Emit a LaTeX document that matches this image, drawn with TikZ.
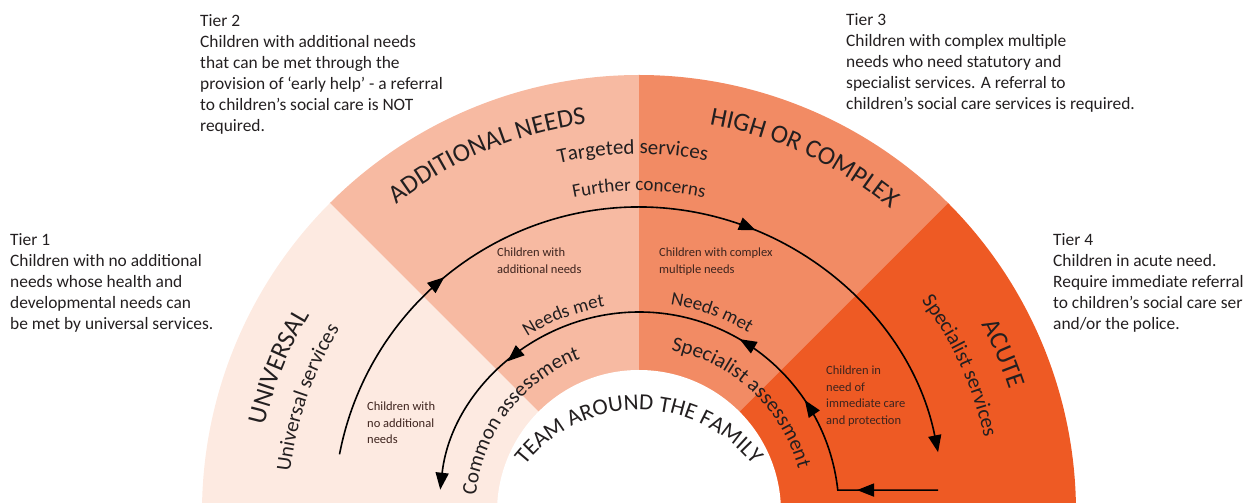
\documentclass[tikz,border=0pt]{standalone}
\usepackage{fontspec}
\setmainfont{Carlito}
\usetikzlibrary{calc,arrows.meta,decorations.markings,decorations.text}

\definecolor{universalfill}{RGB}{253,234,225}
\definecolor{additionalfill}{RGB}{247,186,162}
\definecolor{complexfill}{RGB}{242,139,100}
\definecolor{acutefill}{RGB}{238,90,36}
\definecolor{inkdark}{RGB}{35,31,32}
\definecolor{inkbrown}{RGB}{62,36,30}

\newcommand\tierfont{\fontsize{17.4pt}{21pt}\selectfont}
\newcommand\notefont{\fontsize{12.5pt}{16.5pt}\selectfont}
\newcommand\sectorfont{\fontsize{26pt}{26pt}\selectfont}
\newcommand\servicefont{\fontsize{21pt}{21pt}\selectfont}
\newcommand\flowfont{\fontsize{19pt}{19pt}\selectfont}
\newcommand\teamfont{\fontsize{23pt}{23pt}\selectfont}

% text on an arc round (O): radius, mid angle, half span, font, text
\newcommand\arclabel[5]{%
  \path[decorate,decoration={text along path,text align=center,
      text color=inkdark,text={|#4|#5}}]
    ($(O)+(#2+#3:#1)$) arc[start angle=#2+#3,end angle=#2-#3,radius=#1];}

\begin{document}
\begin{tikzpicture}[x=1pt,y=1pt,
    tier/.style={anchor=north west,inner sep=0pt,align=left,font=\tierfont,text=inkdark},
    note/.style={anchor=north west,inner sep=0pt,align=left,font=\notefont,text=inkbrown},
    flow/.style={line width=1.6pt,>={Triangle[length=17pt,width=13pt]}}]
    \path[use as bounding box,clip] (0,0) rectangle (1243,503);
    \coordinate (O) at (639,-9);

    % Sectors
    \fill[universalfill] (O) -- ++(180:437) arc[start angle=180,end angle=135,radius=437] -- cycle;
    \fill[additionalfill] (O) -- ++(135:437) arc[start angle=135,end angle=90,radius=437] -- cycle;
    \fill[complexfill] (O) -- ++(90:437) arc[start angle=90,end angle=45,radius=437] -- cycle;
    \fill[acutefill] (O) -- ++(45:437) arc[start angle=45,end angle=0,radius=437] -- cycle;
    \fill[white] (O) circle[radius=142];

    % Sector and service labels
    \arclabel{384}{158}{30}{\sectorfont}{UNIVERSAL}
    \arclabel{392}{113}{30}{\sectorfont}{ADDITIONAL NEEDS}
    \arclabel{394}{65}{30}{\sectorfont}{HIGH OR COMPLEX}
    \arclabel{390}{23.5}{20}{\sectorfont}{ACUTE}
    \arclabel{351}{161}{25}{\servicefont}{Universal services}
    \arclabel{358}{91}{25}{\servicefont}{Targeted services}
    \arclabel{353}{24.5}{25}{\servicefont}{Specialist services}

    % Flow labels
    \arclabel{321}{90}{25}{\flowfont}{Further concerns}
    \arclabel{208}{111}{25}{\flowfont}{Needs met}
    \arclabel{210}{70}{25}{\flowfont}{Needs met}
    \arclabel{164}{142.5}{40}{\servicefont}{Common assessment}
    \arclabel{165}{47}{40}{\servicefont}{Specialist assessment}

    % Centre
    \coordinate (T) at (639,-52);
    \path[decorate,decoration={text along path,text align=center,
        text color=inkdark,text={|\teamfont|TEAM AROUND THE FAMILY}}]
      ($(T)+(150:145)$) arc[start angle=150,end angle=30,radius=145];

    % Arrows
    \coordinate (furtherStart) at ($(O)+(169.1:305)$);
    \draw[flow,->,postaction={decorate},decoration={markings,
        mark=at position 0.25 with {\arrow{>}},
        mark=at position 0.644 with {\arrow{>}}}]
      (furtherStart) arc[start angle=169.1,end angle=11.3,radius=305];
    \coordinate (needsStart) at (938,12.9);
    \coordinate (needsCorner) at ($(O)+(6.3:200)$);
    \draw[flow,->,postaction={decorate},decoration={markings,
        mark=at position 81pt with {\arrow{>}},
        mark=at position 197pt with {\arrow{>}},
        mark=at position 287pt with {\arrow{>}},
        mark=at position 536pt with {\arrow{>}}}]
      (needsStart) -- (needsCorner) arc[start angle=6.3,end angle=173.6,radius=200];

    % Notes
    \node[note] (noAdd) at (367,101) {Children with\\no additional\\needs};
    \node[note] (addNeeds) at (497,255) {Children with\\additional needs};
    \node[note] (complexNeeds) at (659,255) {Children with complex\\multiple needs};
    \node[note] (acuteNeeds) at (826,137) {Children in\\need of\\immediate care\\and protection};

    % Tiers
    \node[tier] (tierOne) at (10,270) {Tier 1\\Children with no additional\\needs whose health and\\developmental needs can\\be met by universal services.};
    \node[tier] (tierTwo) at (200,489) {Tier 2\\Children with additional needs\\that can be met through the\\provision of ‘early help’ - a referral\\to children’s social care is NOT\\required.};
    \node[tier] (tierThree) at (846,490) {Tier 3\\Children with complex multiple\\needs who need statutory and\\specialist services. A referral to\\children’s social care services is required.};
    \node[tier] (tierFour) at (1053,270) {Tier 4\\Children in acute need.\\Require immediate referral\\to children’s social care services\\and/or the police.};
\end{tikzpicture}
\end{document}
